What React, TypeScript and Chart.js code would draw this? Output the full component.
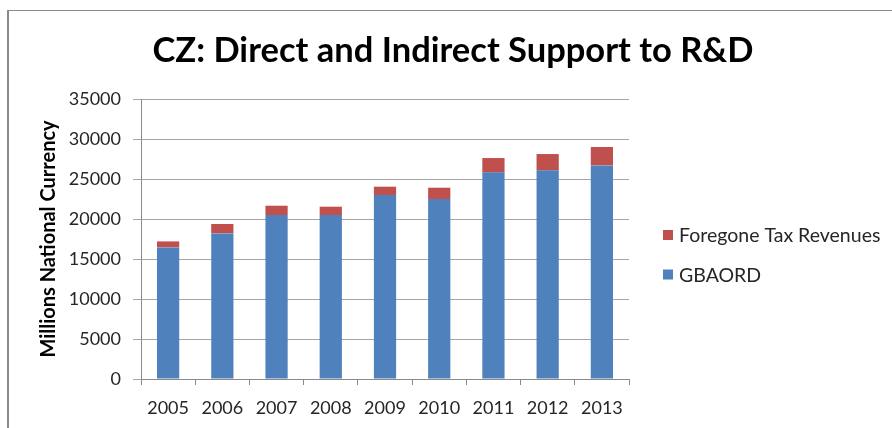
import React, { useEffect, useRef } from "react";
import { Chart, registerables } from "chart.js";

Chart.register(...registerables);

const years = ["2005", "2006", "2007", "2008", "2009", "2010", "2011", "2012", "2013"];
const gbaord = [16450, 18200, 20500, 20500, 23000, 22500, 25830, 26080, 26700];
const foregoneTax = [750, 1175, 1160, 1040, 1040, 1410, 1790, 2040, 2300];
const seriesNames = ["GBAORD", "Foregone Tax Revenues"];
const chartTitle = "CZ: Direct and Indirect Support to R&D";
const yAxisTitle = "Millions National Currency";
const yMin = 0;
const yMax = 35000;
const yStep = 5000;

const FONT = "Lato, 'Open Sans', sans-serif";

const framePlugin = {
  id: "frame",
  beforeDraw(chart: any) {
    const ctx = chart.ctx;
    ctx.save();
    ctx.fillStyle = "#ffffff";
    ctx.fillRect(0, 0, chart.width, chart.height);
    ctx.fillStyle = "#8a8a8a";
    ctx.fillRect(7, 10, 2, chart.height - 10);
    ctx.fillRect(7, 10, chart.width - 7, 1);
    ctx.restore();
  },
};

const titlePlugin = {
  id: "customTitle",
  afterDraw(chart: any) {
    const ctx = chart.ctx;
    ctx.save();
    ctx.font = `bold 34.5px ${FONT}`;
    ctx.fillStyle = "#000000";
    ctx.textAlign = "center";
    ctx.textBaseline = "middle";
    ctx.fillText(chartTitle, 453, 51);
    ctx.restore();
  },
};

const legendPlugin = {
  id: "customLegend",
  afterDraw(chart: any) {
    const ctx = chart.ctx;
    const ds = chart.data.datasets.slice().reverse();
    ctx.save();
    ctx.font = `19.5px ${FONT}`;
    ctx.textAlign = "left";
    ctx.textBaseline = "middle";
    ds.forEach((d: any, i: number) => {
      const cy = 235 + i * 39.5;
      ctx.fillStyle = d.backgroundColor;
      ctx.fillRect(663, cy - 5, 10, 10);
      ctx.fillStyle = "#262626";
      ctx.fillText(d.label, 679, cy + 1);
    });
    ctx.restore();
  },
};

export default function App() {
  const ref = useRef<HTMLCanvasElement | null>(null);

  useEffect(() => {
    if (!ref.current) return;
    const chart = new Chart(ref.current, {
      type: "bar",
      data: {
        labels: years,
        datasets: [
          {
            label: seriesNames[0],
            data: gbaord,
            backgroundColor: "#4F81BD",
            borderWidth: 0,
            barPercentage: 0.41,
            categoryPercentage: 1,
          },
          {
            label: seriesNames[1],
            data: foregoneTax,
            backgroundColor: "#C0504D",
            borderWidth: 0,
            barPercentage: 0.41,
            categoryPercentage: 1,
          },
        ],
      },
      options: {
        responsive: false,
        devicePixelRatio: 1,
        animation: false,
        layout: { padding: { left: 0, top: 99, right: 263, bottom: 0 } },
        plugins: {
          legend: { display: false },
          title: { display: false },
          tooltip: { enabled: false },
        },
        scales: {
          x: {
            stacked: true,
            afterFit(scale: any) {
              scale.height = 49;
            },
            grid: {
              display: true,
              offset: true,
              drawOnChartArea: false,
              drawTicks: true,
              tickLength: 6,
              color: "#8a8a8a",
            },
            border: { display: true, color: "#8a8a8a", width: 1 },
            ticks: {
              color: "#262626",
              font: { family: FONT, size: 18 },
              padding: 12,
              maxRotation: 0,
            },
          },
          y: {
            stacked: true,
            min: yMin,
            max: yMax,
            afterFit(scale: any) {
              scale.width = 141;
            },
            grid: {
              color: "#a6a6a6",
              drawTicks: true,
              tickLength: 8,
            },
            border: { display: true, color: "#8a8a8a", width: 1 },
            ticks: {
              stepSize: yStep,
              color: "#262626",
              font: { family: FONT, size: 18 },
              padding: 12,
              callback: (v: any) => String(v),
            },
            title: {
              display: true,
              text: yAxisTitle,
              color: "#000000",
              font: { family: FONT, size: 20, weight: "bold" },
              padding: { top: 37, bottom: 0 },
            },
          },
        },
      },
      plugins: [framePlugin, titlePlugin, legendPlugin],
    });
    return () => chart.destroy();
  }, []);

  return (
    <div style={{ position: "fixed", left: 0, top: 0, width: 892, height: 428, background: "#fff" }}>
      <canvas ref={ref} width={892} height={428} style={{ display: "block" }} />
    </div>
  );
}
